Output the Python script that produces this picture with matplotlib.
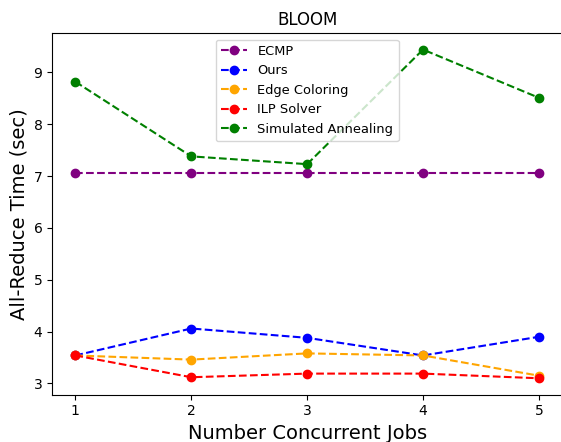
import matplotlib.pyplot as plt

jobs = [1, 2, 3, 4, 5]
ecmp = [7.06, 7.06, 7.06, 7.06, 7.06]
ours = [3.54, 4.06, 3.88, 3.54, 3.90]
edge_coloring = [3.54, 3.46, 3.58, 3.54, 3.15]
ilp_solver = [3.54, 3.12, 3.19, 3.19, 3.10]
sim_annealing = [8.82, 7.38, 7.23, 9.44, 8.51]

fig, ax = plt.subplots(figsize=(5.61, 4.42), dpi=100)
fig.subplots_adjust(left=0.093, right=1.002, top=0.925, bottom=0.107)

ax.plot(jobs, ecmp, 'o--', color='purple', label='ECMP')
ax.plot(jobs, ours, 'o--', color='blue', label='Ours')
ax.plot(jobs, edge_coloring, 'o--', color='orange', label='Edge Coloring')
ax.plot(jobs, ilp_solver, 'o--', color='red', label='ILP Solver')
ax.plot(jobs, sim_annealing, 'o--', color='green', label='Simulated Annealing')

ax.set_title("BLOOM")
ax.set_xlabel("Number Concurrent Jobs", fontsize=14)
ax.set_ylabel("All-Reduce Time (sec)", fontsize=14)
ax.set_xticks(jobs)
ax.legend(loc='upper center', fontsize=9.4)

plt.savefig("out.png")
